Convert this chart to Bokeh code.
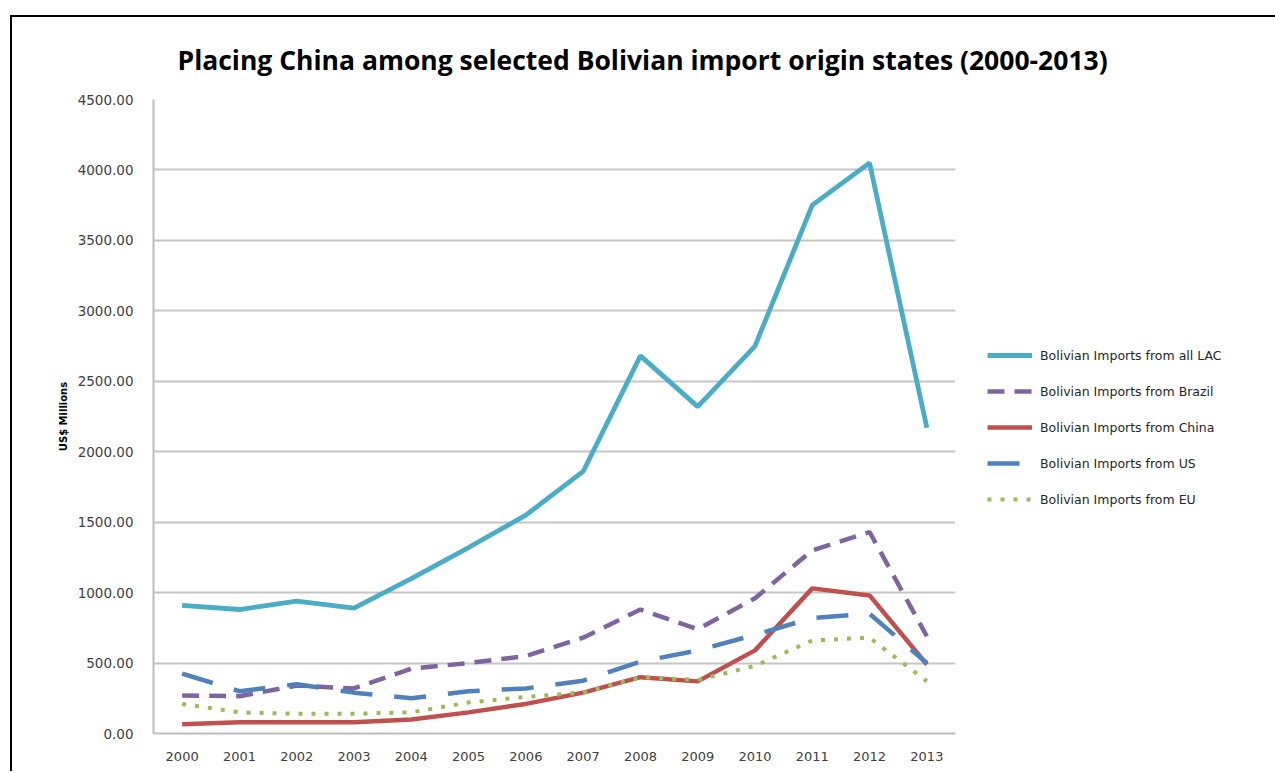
from bokeh.plotting import figure
from bokeh.models import Legend, LegendItem, FixedTicker, NumeralTickFormatter, Range1d
from bokeh.embed import file_html
from bokeh.resources import INLINE

years = list(range(2000, 2014))
lac = [910, 880, 940, 890, 1100, 1320, 1550, 1860, 2680, 2320, 2750, 3750, 4050, 2170]
brazil = [270, 265, 340, 320, 460, 500, 550, 680, 880, 740, 960, 1300, 1430, 690]
china = [65, 80, 80, 80, 100, 150, 210, 290, 400, 370, 590, 1030, 980, 490]
us = [425, 300, 350, 290, 250, 300, 320, 375, 510, 590, 700, 820, 850, 500]
eu = [210, 150, 140, 140, 150, 220, 260, 290, 400, 380, 480, 660, 680, 370]
y_ticks = [0, 500, 1000, 1500, 2000, 2500, 3000, 3500, 4000, 4500]

names = ["Bolivian Imports from all LAC", "Bolivian Imports from Brazil",
         "Bolivian Imports from China", "Bolivian Imports from US",
         "Bolivian Imports from EU"]

p = figure(frame_width=802, frame_height=634, output_backend="svg", toolbar_location=None,
           x_range=Range1d(1999.5, 2013.5), y_range=Range1d(0, 4500),
           min_border_left=141, min_border_right=318, min_border_top=82,
           min_border_bottom=38, margin=(15, 0, 0, 10),
           title="Placing China among selected Bolivian import origin states (2000-2013)")
p.styles = {"border-top": "2px solid #000", "border-left": "2px solid #000"}
p.outline_line_color = None
p.background_fill_color = "white"
p.border_fill_color = "white"

p.title.text_font = "Open Sans"
p.title.text_font_size = "26.5px"
p.title.text_font_style = "bold"
p.title.text_color = "#000000"
p.title.align = "left"
p.title.offset = 24
p.title.standoff = 43

p.xgrid.grid_line_color = None
p.ygrid.grid_line_color = "#c6c6c6"
p.ygrid.grid_line_width = 2

p.xaxis.ticker = FixedTicker(ticks=years)
p.yaxis.ticker = FixedTicker(ticks=y_ticks)
p.yaxis.formatter = NumeralTickFormatter(format="0.00")
for ax in (p.xaxis, p.yaxis):
    ax.axis_line_color = "#bdbdbd"
    ax.axis_line_width = 2
    ax.major_tick_line_color = None
    ax.minor_tick_line_color = None
    ax.major_label_text_font = "DejaVu Sans"
    ax.major_label_text_font_size = "13px"
    ax.major_label_text_color = "#404040"
p.yaxis.major_label_text_font_size = "13.5px"
p.yaxis.major_label_standoff = 14
p.xaxis.major_label_standoff = 12
p.yaxis.axis_label = "US$ Millions"
p.yaxis.axis_label_text_font = "DejaVu Sans"
p.yaxis.axis_label_text_font_size = "10px"
p.yaxis.axis_label_text_font_style = "bold"
p.yaxis.axis_label_text_color = "#000000"
p.yaxis.axis_label_standoff = 6

r_lac = p.line(years, lac, line_color="#4BACC6", line_width=4.8)
r_br = p.line(years, brazil, line_color="#8064A2", line_width=4.5, line_dash="17 10")
r_cn = p.line(years, china, line_color="#C0504D", line_width=4.5)
r_us = p.line(years, us, line_color="#4F81BD", line_width=4.5, line_dash="32 22")
r_eu = p.line(years, eu, line_color="#9BBB59", line_width=4, line_dash="4 9")

legend = Legend(items=[LegendItem(label=n, renderers=[r]) for n, r in
                       zip(names, [r_lac, r_br, r_cn, r_us, r_eu])],
                location=(32, 226), glyph_width=45, glyph_height=16,
                label_height=16, spacing=20, label_standoff=8, padding=0,
                margin=0, border_line_color=None, background_fill_alpha=0,
                label_text_font="DejaVu Sans", label_text_font_size="12.5px",
                label_text_color="#262626")
p.add_layout(legend, "right")

open("out.html", "w").write(file_html(p, INLINE))
